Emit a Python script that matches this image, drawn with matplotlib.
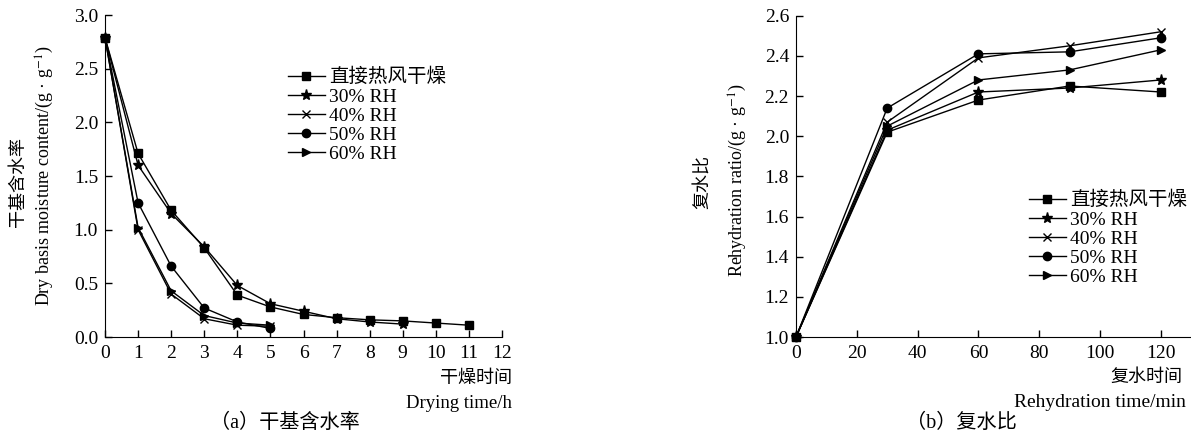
import matplotlib.pyplot as plt
import numpy as np

plt.rcParams['font.family'] = ['Liberation Serif', 'Noto Sans CJK SC']
plt.rcParams['mathtext.fontset'] = 'stix'
plt.rcParams['font.size'] = 14

LABELS = ["直接热风干燥", "30% RH", "40% RH", "50% RH", "60% RH"]
MARKERS = ["s", "*", "x", "o", ">"]

# (a) dry basis moisture content vs drying time (h)
dry_x_hot = [0, 1, 2, 3, 4, 5, 6, 7, 8, 9, 10, 11]
dry_y_hot = [2.79, 1.71, 1.18, 0.83, 0.39, 0.28, 0.21, 0.18, 0.16, 0.15, 0.13, 0.11]
dry_x_30 = [0, 1, 2, 3, 4, 5, 6, 7, 8, 9]
dry_y_30 = [2.79, 1.60, 1.15, 0.84, 0.48, 0.31, 0.24, 0.17, 0.14, 0.12]
dry_x_40 = [0, 1, 2, 3, 4, 5]
dry_y_40 = [2.79, 1.00, 0.40, 0.17, 0.11, 0.10]
dry_x_50 = [0, 1, 2, 3, 4, 5]
dry_y_50 = [2.79, 1.25, 0.66, 0.27, 0.14, 0.08]
dry_x_60 = [0, 1, 2, 3, 4, 5]
dry_y_60 = [2.79, 1.02, 0.43, 0.20, 0.13, 0.11]

# (b) rehydration ratio vs rehydration time (min)
reh_x = [0, 30, 60, 90, 120]
reh_y_hot = [1.00, 2.02, 2.18, 2.25, 2.22]
reh_y_30 = [1.00, 2.03, 2.22, 2.24, 2.28]
reh_y_40 = [1.00, 2.07, 2.39, 2.45, 2.52]
reh_y_50 = [1.00, 2.14, 2.41, 2.42, 2.49]
reh_y_60 = [1.00, 2.05, 2.28, 2.33, 2.43]

W, H = 1191, 436
fig = plt.figure(figsize=(W / 100, H / 100), dpi=100)


def px(x, y):
    return x / W, 1 - y / H


def style_axes(ax):
    ax.spines['top'].set_visible(False)
    ax.spines['right'].set_visible(False)
    ax.tick_params(direction='in', length=5, width=1, labelsize=14)
    ax.tick_params(axis='x', pad=6)
    ax.tick_params(axis='y', pad=5)


def draw_series(ax, xs, ys):
    for x, y, lab, m in zip(xs, ys, LABELS, MARKERS):
        ms = 8 if m == "*" else 6
        ax.plot(x, y, color='black', lw=1, marker=m, ms=ms, mew=1,
                label=lab, clip_on=False)


def add_legend(ax, x, y):
    ax.legend(loc='upper left', bbox_to_anchor=px(x, y), bbox_transform=fig.transFigure,
              frameon=False, borderpad=0, borderaxespad=0, labelspacing=0.08,
              handlelength=1.9, handletextpad=0.2, fontsize=14)


# ---- panel (a)
ax1 = fig.add_axes([105 / W, 1 - 337 / H, (502 - 105) / W, (337 - 15) / H])
draw_series(ax1, [dry_x_hot, dry_x_30, dry_x_40, dry_x_50, dry_x_60],
            [dry_y_hot, dry_y_30, dry_y_40, dry_y_50, dry_y_60])
ax1.set_xlim(0, 12)
ax1.set_ylim(0, 3.0)
ax1.set_xticks(np.arange(0, 13, 1))
ax1.set_yticks(np.arange(0, 3.01, 0.5))
ax1.yaxis.set_major_formatter(plt.FormatStrFormatter('%.1f'))
style_axes(ax1)
add_legend(ax1, 288, 68)

fig.text(*px(18, 182), "干基含水率", rotation=90, ha='center', va='center', fontsize=13)
fig.text(*px(45, 176), r"Dry basis moisture content/(g · g$^{-1}$)", rotation=90,
         ha='center', va='center', fontsize=13)
fig.text(*px(512, 378), "干燥时间", ha='right', va='center', fontsize=13)
fig.text(*px(512, 403), "Drying time/h", ha='right', va='center', fontsize=13.5)
fig.text(*px(285, 423), "（a）干基含水率", ha='center', va='center', fontsize=14.5)

# ---- panel (b)
ax2 = fig.add_axes([796 / W, 1 - 337 / H, (1190 - 796) / W, (337 - 15.7) / H])
draw_series(ax2, [reh_x] * 5, [reh_y_hot, reh_y_30, reh_y_40, reh_y_50, reh_y_60])
ax2.set_xlim(0, 129.6)
ax2.set_ylim(1.0, 2.6)
ax2.set_xticks(np.arange(0, 121, 20))
ax2.set_yticks(np.arange(1.0, 2.61, 0.2))
ax2.yaxis.set_major_formatter(plt.FormatStrFormatter('%.1f'))
style_axes(ax2)
add_legend(ax2, 1029, 191)

fig.text(*px(703, 182), "复水比", rotation=90, ha='center', va='center', fontsize=13)
fig.text(*px(738, 180), r"Rehydration ratio/(g · g$^{-1}$)", rotation=90,
         ha='center', va='center', fontsize=13)
fig.text(*px(1182, 377), "复水时间", ha='right', va='center', fontsize=13)
fig.text(*px(1186, 402), "Rehydration time/min", ha='right', va='center', fontsize=14)
fig.text(*px(961, 423), "（b）复水比", ha='center', va='center', fontsize=14.5)

fig.savefig('out.png', dpi=100)
